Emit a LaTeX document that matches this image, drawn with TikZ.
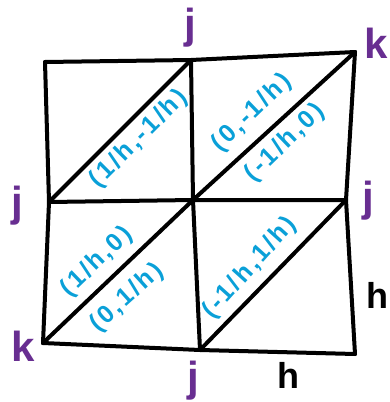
\documentclass[tikz,border=0pt]{standalone}
\usepackage{fontspec}
\usepackage{xcolor}
\usetikzlibrary{positioning}
\setmainfont{Liberation Sans}
\newfontfamily\handFont[LetterSpace=10]{Liberation Sans}
\definecolor{vertexPurple}{RGB}{104, 46, 145}
\definecolor{fluxBlue}{RGB}{10, 160, 216}

\begin{document}
\begin{tikzpicture}[
    x=1pt, y=-1pt,
    gridLine/.style={line width=4pt, line cap=round, line join=round, draw=black},
    vertexLabel/.style={inner sep=0pt, text=vertexPurple, font=\bfseries\fontsize{42}{42}\selectfont},
    sizeLabel/.style={inner sep=0pt, text=black, font=\bfseries\fontsize{36}{36}\selectfont},
    fluxLabel/.style={inner sep=0pt, text=fluxBlue, font=\handFont\bfseries\fontsize{25}{25}\selectfont}
]
    \useasboundingbox (0,0) rectangle (390,402);

    % Grid points
    \coordinate (tl) at (45,62);
    \coordinate (tm) at (191,60);
    \coordinate (tr) at (355,52);
    \coordinate (ml) at (49,202);
    \coordinate (cc) at (193,200);
    \coordinate (mr) at (346,200);
    \coordinate (bl) at (43,343);
    \coordinate (bm) at (200,350);
    \coordinate (br) at (355,354);

    % Grid lines
    \draw[gridLine] (tl) -- (tm) -- (tr);
    \draw[gridLine] (ml) -- (cc) -- (mr);
    \draw[gridLine] (bl) -- (bm) -- (br);
    \draw[gridLine] (tl) -- (ml) -- (bl);
    \draw[gridLine] (tm) -- (cc) -- (bm);
    \draw[gridLine] (tr) -- (mr) -- (br);
    \draw[gridLine] (ml) -- (tm);
    \draw[gridLine] (cc) -- (tr);
    \draw[gridLine] (bl) -- (cc);
    \draw[gridLine] (bm) -- (mr);

    % Vertex labels
    \node[vertexLabel] (jTop) at (190,28) {j};
    \node[vertexLabel] (kTop) at (376,43) {k};
    \node[vertexLabel] (jLeft) at (17,206) {j};
    \node[vertexLabel] (jRight) at (368,201) {j};
    \node[vertexLabel] (kBottom) at (23,346) {k};
    \node[vertexLabel] (jBottom) at (193,381) {j};

    % Mesh size
    \node[sizeLabel] (hRight) at (377,295) {h};
    \node[sizeLabel] (hBottom) at (288,375) {h};

    % Flux labels
    \node[fluxLabel, rotate=45] (fluxA) at (139,139) {(1/h,-1/h)};
    \node[fluxLabel, rotate=44] (fluxB) at (252,113) {(0,-1/h)};
    \node[fluxLabel, rotate=44] (fluxC) at (285,143) {(-1/h,0)};
    \node[fluxLabel, rotate=44] (fluxD) at (97,262) {(1/h,0)};
    \node[fluxLabel, rotate=42] (fluxE) at (127,298) {(0,1/h)};
    \node[fluxLabel, rotate=48] (fluxF) at (250,268) {(-1/h,1/h)};
\end{tikzpicture}
\end{document}
